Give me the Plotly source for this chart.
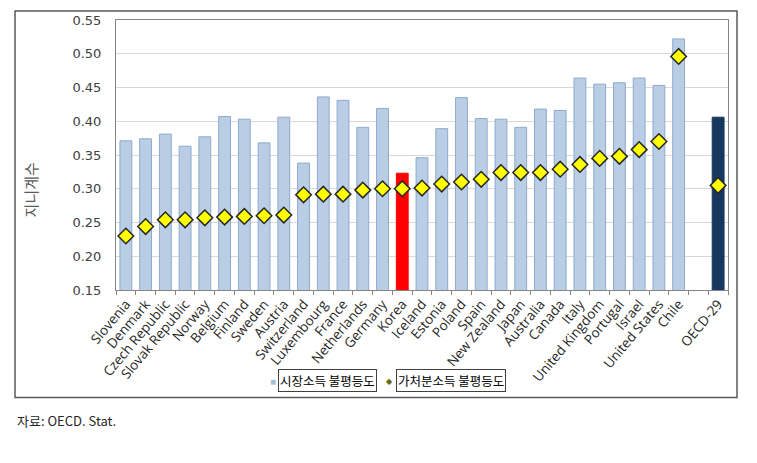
import plotly.graph_objects as go

# Gini coefficients, OECD countries (market income vs disposable income)
countries = ['Slovenia', 'Denmark', 'Czech Republic', 'Slovak Republic', 'Norway',
             'Belgium', 'Finland', 'Sweden', 'Austria', 'Switzerland', 'Luxembourg',
             'France', 'Netherlands', 'Germany', 'Korea', 'Iceland', 'Estonia',
             'Poland', 'Spain', 'New Zealand', 'Japan', 'Australia', 'Canada',
             'Italy', 'United Kingdom', 'Portugal', 'Israel', 'United States',
             'Chile', ' ', 'OECD-29']
market_gini = [0.371, 0.374, 0.381, 0.363, 0.377, 0.407, 0.403, 0.368, 0.406,
               0.338, 0.436, 0.431, 0.391, 0.419, 0.323, 0.346, 0.389, 0.435,
               0.404, 0.403, 0.391, 0.418, 0.416, 0.464, 0.455, 0.457, 0.464,
               0.453, 0.522, None, 0.406]
disposable_gini = [0.230, 0.244, 0.254, 0.254, 0.257, 0.258, 0.259, 0.260, 0.261,
                   0.291, 0.292, 0.292, 0.298, 0.300, 0.300, 0.301, 0.307, 0.310,
                   0.314, 0.324, 0.324, 0.324, 0.329, 0.336, 0.345, 0.348, 0.358,
                   0.370, 0.496, None, 0.305]
y_ticks = [0.15, 0.20, 0.25, 0.30, 0.35, 0.40, 0.45, 0.50, 0.55]

colors = {
    'bar': '#b9cde5',
    'bar_line': '#8eaacb',
    'korea': '#ff0000',
    'oecd': '#17375e',
    'diamond': '#ffff00',
    'diamond_line': '#262626',
    'grid': '#d9d9d9',
    'axis': '#868686',
    'text': '#404040',
}

bar_colors = []
for c in countries:
    if c == 'Korea':
        bar_colors.append(colors['korea'])
    elif c == 'OECD-29':
        bar_colors.append(colors['oecd'])
    else:
        bar_colors.append(colors['bar'])
bar_lines = [colors['bar_line'] if col == colors['bar'] else col for col in bar_colors]

fig = go.Figure()

fig.add_trace(go.Bar(
    x=countries, y=market_gini,
    marker=dict(color=bar_colors, line=dict(color=bar_lines, width=1)),
    name='시장소득 불평등도', showlegend=False,
))

fig.add_trace(go.Scatter(
    x=countries, y=disposable_gini, mode='markers',
    marker=dict(symbol='diamond', size=12, color=colors['diamond'],
                line=dict(color=colors['diamond_line'], width=1.5)),
    name='가처분소득 불평등도', showlegend=False,
))

# page body has an 8px margin, so margins are shifted up/left by 8px
fig.update_layout(
    width=757, height=463,
    margin=dict(l=108, r=37, t=12, b=181),
    paper_bgcolor='white', plot_bgcolor='white',
    bargap=0.4,
    font=dict(family='Noto Sans', size=12, color=colors['text']),
)

fig.update_xaxes(
    type='category', categoryorder='array', categoryarray=countries,
    range=[-0.5, len(countries) - 0.5],
    tickangle=-50, tickson='boundaries', automargin=False,
    ticks='outside', ticklen=4, tickcolor=colors['axis'],
    tickfont=dict(family='Open Sans', size=13.5, color='#262626'),
    showline=True, linecolor=colors['axis'], linewidth=1, mirror=True,
    showgrid=False,
)
fig.update_yaxes(
    range=[0.15, 0.55], tickvals=y_ticks, tickformat='.2f', automargin=False,
    tickfont=dict(family='DejaVu Sans', size=13, color=colors['text']),
    ticklabelstandoff=11,
    showgrid=True, gridcolor=colors['grid'], gridwidth=1,
    showline=True, linecolor=colors['axis'], linewidth=1, mirror=True,
    zeroline=False, ticks='',
)

# outer frame around chart + legend
fig.add_shape(type='rect', xref='paper', yref='paper',
              x0=-0.165, x1=1.0147, y0=-0.398, y1=1.033,
              line=dict(color='#595959', width=1.5), fillcolor='rgba(0,0,0,0)')

# y-axis title
fig.add_annotation(text='지니계수', xref='paper', yref='paper',
                   x=-0.14, y=0.37, textangle=-90, showarrow=False,
                   xanchor='center', yanchor='middle',
                   font=dict(family='Noto Sans CJK KR', size=15, color='#595959'))

# custom legend (each label in its own box)
fig.add_annotation(text='■', xref='paper', yref='paper', x=0.256, y=-0.337,
                   xanchor='center', yanchor='middle', showarrow=False,
                   font=dict(size=10, color='#a9c0dc'))
fig.add_annotation(text='시장소득 불평등도', xref='paper', yref='paper',
                   x=0.265, y=-0.337, xanchor='left', yanchor='middle', showarrow=False,
                   bordercolor='#404040', borderwidth=1, borderpad=1,
                   font=dict(family='Noto Sans CJK KR', size=12.5, color='black'))
fig.add_annotation(text='◆', xref='paper', yref='paper', x=0.447, y=-0.337,
                   xanchor='center', yanchor='middle', showarrow=False,
                   font=dict(size=8, color='#6b6b10'))
fig.add_annotation(text='가처분소득 불평등도', xref='paper', yref='paper',
                   x=0.457, y=-0.337, xanchor='left', yanchor='middle', showarrow=False,
                   bordercolor='#404040', borderwidth=1, borderpad=1,
                   font=dict(family='Noto Sans CJK KR', size=12.5, color='black'))

# source note
fig.add_annotation(text='자료: OECD. Stat.', xref='paper', yref='paper',
                   x=-0.165, y=-0.482, xanchor='left', yanchor='middle', showarrow=False,
                   font=dict(family='Noto Sans CJK KR', size=13, color='#262626'))

fig.write_html('out.html')
